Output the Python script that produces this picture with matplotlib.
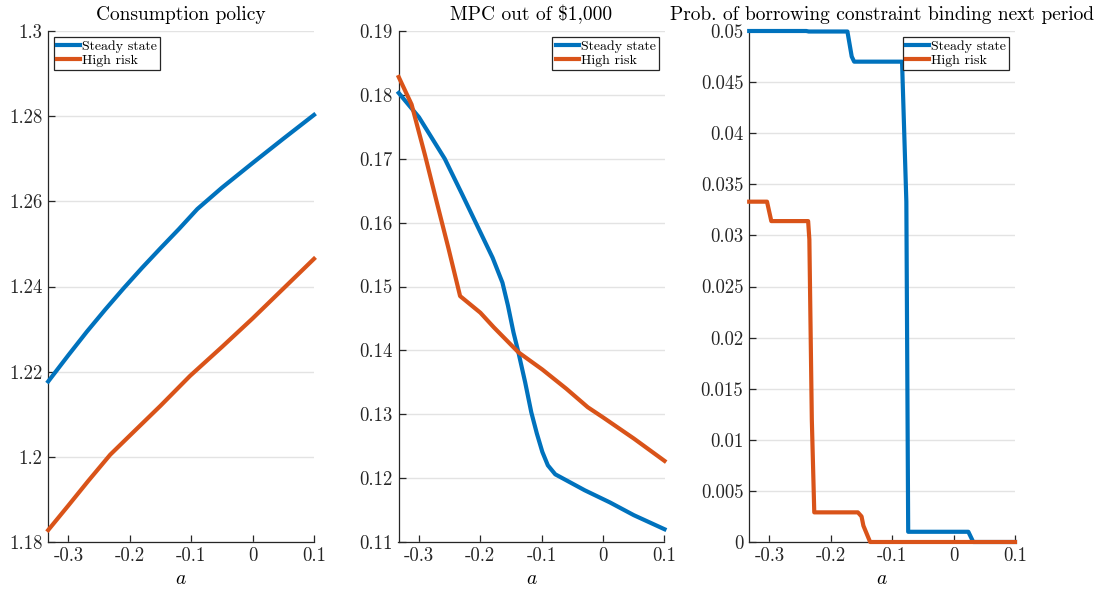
import numpy as np
import matplotlib
matplotlib.use("Agg")
import matplotlib.pyplot as plt
from matplotlib.ticker import FuncFormatter

plt.rcParams['font.family'] = ['cmr10', 'DejaVu Serif']
plt.rcParams['mathtext.fontset'] = 'cm'
plt.rcParams['axes.unicode_minus'] = False

# --- data ---
# Consumption policy
cons_ss_a = [-0.333, -0.3, -0.27, -0.24, -0.21, -0.18, -0.15, -0.12, -0.09, -0.05, 0.0, 0.05, 0.1]
cons_ss_c = [1.2177, 1.2239, 1.2294, 1.2346, 1.2396, 1.2444, 1.2490, 1.2535, 1.2582,
             1.2632, 1.2690, 1.2747, 1.2803]
cons_hr_a = [-0.333, -0.3, -0.268, -0.232, -0.2, -0.15, -0.102, -0.05, 0.0, 0.05, 0.1]
cons_hr_c = [1.1828, 1.1886, 1.1943, 1.2005, 1.2050, 1.2120, 1.2190, 1.2258, 1.2325, 1.2395, 1.2465]

# MPC out of $1,000
mpc_ss_a = [-0.333, -0.3, -0.258, -0.23, -0.2, -0.18, -0.164, -0.155, -0.146, -0.138,
            -0.127, -0.117, -0.108, -0.099, -0.09, -0.078, -0.03, 0.011, 0.05, 0.1]
mpc_ss_v = [0.1803, 0.1765, 0.1700, 0.1645, 0.1585, 0.1545, 0.1506, 0.1470, 0.1428, 0.1397,
            0.1350, 0.1303, 0.1270, 0.1241, 0.1220, 0.1206, 0.1181, 0.1162, 0.1142, 0.1120]
mpc_hr_a = [-0.333, -0.312, -0.29, -0.271, -0.252, -0.233, -0.2, -0.178, -0.138,
            -0.099, -0.06, -0.025, 0.0, 0.05, 0.1]
mpc_hr_v = [0.1828, 0.1785, 0.1705, 0.1632, 0.1560, 0.1485, 0.1459, 0.1436, 0.1397,
            0.1370, 0.1340, 0.1311, 0.1295, 0.1262, 0.1227]

# Prob. of borrowing constraint binding next period
prob_ss_a = [-0.333, -0.24, -0.236, -0.173, -0.166, -0.162, -0.084, -0.077, -0.074, 0.024, 0.032, 0.1]
prob_ss_p = [0.05, 0.05, 0.04995, 0.04995, 0.0475, 0.0470, 0.0470, 0.0333, 0.0010, 0.0010, 0.0, 0.0]
prob_hr_a = [-0.333, -0.304, -0.297, -0.237, -0.235, -0.231, -0.227, -0.156, -0.150, -0.147, -0.136, -0.03, 0.1]
prob_hr_p = [0.0333, 0.0333, 0.0314, 0.0314, 0.0296, 0.0120, 0.0029, 0.0029, 0.0025, 0.0016, 0.0, 0.0, 0.0]

titles = ['Consumption policy', r'MPC out of \$1,000',
          'Prob. of borrowing constraint binding next period']
labels = ['Steady state', 'High risk']
xticks = [-0.3, -0.2, -0.1, 0, 0.1]
yticks = [np.arange(1.18, 1.3001, 0.02), np.arange(0.11, 0.1901, 0.01), np.arange(0, 0.05001, 0.005)]
ylims = [(1.18, 1.3), (0.11, 0.19), (0, 0.05)]
legend_locs = ['upper left', 'upper right', 'upper right']

series = [
    (cons_ss_a, cons_ss_c, cons_hr_a, cons_hr_c),
    (mpc_ss_a, mpc_ss_v, mpc_hr_a, mpc_hr_v),
    (prob_ss_a, prob_ss_p, prob_hr_a, prob_hr_p),
]

blue = '#0072BD'
orange = '#D95319'
axcol = '#262626'

fig = plt.figure(figsize=(11.07, 5.91), dpi=100)
lefts = [48, 398.5, 749]
for i, (xa, ya, xb, yb) in enumerate(series):
    ax = fig.add_axes([lefts[i] / 1107, 49 / 591, 266 / 1107, 511 / 591])
    ax.plot(xa, ya, color=blue, lw=3, label=labels[0], clip_on=False, zorder=3)
    ax.plot(xb, yb, color=orange, lw=3, label=labels[1], clip_on=False, zorder=3)
    ax.set_xlim(-1 / 3, 0.1)
    ax.set_ylim(*ylims[i])
    ax.set_xticks(xticks)
    ax.set_yticks(yticks[i])
    ax.xaxis.set_major_formatter(FuncFormatter(lambda v, _: f'{v:g}'))
    ax.yaxis.set_major_formatter(FuncFormatter(lambda v, _: f'{v:g}'))
    ax.grid(axis='y', color='#e3e3e3', lw=1)
    ax.set_axisbelow(True)
    for s in ['top', 'right']:
        ax.spines[s].set_visible(False)
    for s in ['left', 'bottom']:
        ax.spines[s].set_color(axcol)
        ax.spines[s].set_linewidth(0.9)
    ax.tick_params(direction='in', length=5, width=0.9, color=axcol,
                   labelcolor=axcol, labelsize=13.5, pad=4)
    ax.set_title(titles[i], fontsize=14, pad=8)
    ax.set_xlabel('$a$', fontsize=14, labelpad=3)
    leg = ax.legend(loc=legend_locs[i], fontsize=10, handlelength=1.65,
                    handletextpad=0.15, labelspacing=0.1, borderpad=0.25,
                    borderaxespad=0.4, fancybox=False, framealpha=1)
    leg.get_frame().set_edgecolor(axcol)
    leg.get_frame().set_linewidth(0.9)

fig.savefig('out.png', dpi=100)
